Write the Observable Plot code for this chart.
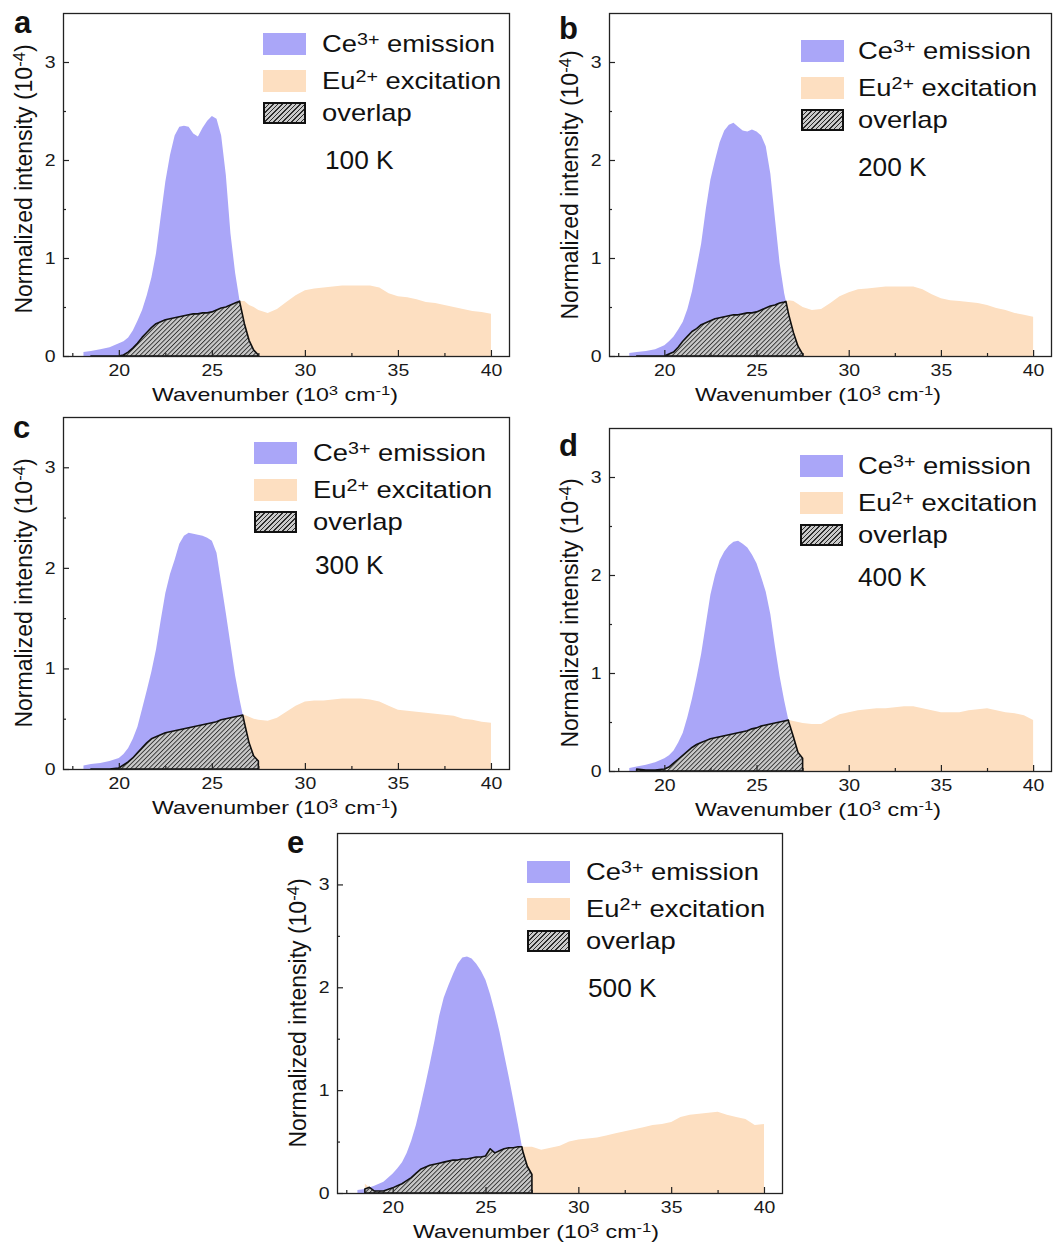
<!DOCTYPE html>
<html>
<head>
<meta charset="utf-8">
<script src="https://cdn.jsdelivr.net/npm/d3@7"></script>
<script src="https://cdn.jsdelivr.net/npm/@observablehq/plot@0.6"></script>
<style>
  html, body { margin: 0; padding: 0; background: #fff; }
  #root { position: relative; width: 1063px; height: 1245px; overflow: hidden;
          font-family: "Liberation Sans", Arial, Helvetica, sans-serif; color: #111; }
  .panel { position: absolute; }
  .abs { position: absolute; white-space: nowrap; line-height: 1; }
  .tag { font-weight: bold; font-size: 31px; }
  .sup { font-size: 0.72em; position: relative; top: -0.42em; line-height: 0; }
  .legtext { font-size: 24px; transform-origin: 0 50%; }
  .temp { font-size: 25px; transform-origin: 0 50%; }
  .xlab { font-size: 19px; }
  .ylab { font-size: 23px; }
  .sw { position: absolute; width: 43px; height: 22px; box-sizing: border-box; }
</style>
</head>
<body>
<div id="root"></div>
<script>
// ---------------- data ----------------
const wavenumber = [18.1,18.5,19,19.5,20,20.25,20.5,20.75,21,21.25,21.5,21.75,22,22.25,22.5,22.75,23,23.25,23.5,23.75,24,24.25,24.5,24.75,25,25.25,25.5,25.75,26,26.25,26.5,26.75,27,27.25,27.5,28,28.5,29,29.5,30,30.5,31,31.5,32,32.5,33,33.5,34,34.5,35,35.5,36,36.5,37,37.5,38,38.5,39,39.5,40];

// Ce3+ emission (covers 18.1 .. 27.5)
const emission100 = [0.04,0.05,0.07,0.09,0.13,0.15,0.19,0.26,0.36,0.47,0.62,0.80,1.05,1.42,1.78,2.05,2.25,2.34,2.35,2.34,2.27,2.24,2.33,2.40,2.45,2.42,2.25,1.85,1.25,0.85,0.55,0.33,0.16,0.06,0.01];
const emission200 = [0.03,0.04,0.05,0.07,0.11,0.15,0.20,0.27,0.35,0.48,0.66,0.90,1.15,1.50,1.80,2.00,2.18,2.30,2.36,2.38,2.34,2.30,2.29,2.31,2.29,2.25,2.14,1.86,1.40,0.95,0.64,0.42,0.24,0.10,0.02];
const emission300 = [0.035,0.05,0.06,0.08,0.11,0.15,0.21,0.30,0.42,0.60,0.78,0.97,1.19,1.48,1.75,1.94,2.08,2.24,2.32,2.35,2.34,2.33,2.32,2.30,2.27,2.15,1.85,1.55,1.24,0.93,0.68,0.46,0.26,0.13,0.08];
const emission400 = [0.03,0.045,0.065,0.09,0.13,0.16,0.21,0.29,0.39,0.55,0.74,0.96,1.20,1.50,1.80,2.00,2.15,2.24,2.30,2.34,2.35,2.32,2.28,2.21,2.12,1.98,1.83,1.60,1.27,0.97,0.72,0.50,0.35,0.19,0.13];
const emission500 = [0.03,0.04,0.07,0.11,0.19,0.24,0.30,0.39,0.51,0.66,0.85,1.05,1.26,1.48,1.72,1.90,2.02,2.13,2.23,2.29,2.30,2.28,2.23,2.16,2.07,1.93,1.76,1.57,1.35,1.13,0.90,0.66,0.41,0.26,0.18];

// Eu2+ excitation (covers 18.5 .. 40)
const excitation100 = [null,0,0,0,0,0.01,0.04,0.08,0.13,0.19,0.24,0.29,0.33,0.35,0.37,0.38,0.39,0.40,0.41,0.42,0.43,0.43,0.44,0.44,0.45,0.47,0.49,0.50,0.52,0.54,0.56,0.56,0.52,0.50,0.47,0.44,0.48,0.55,0.62,0.67,0.69,0.70,0.71,0.72,0.72,0.72,0.72,0.70,0.64,0.61,0.60,0.58,0.55,0.54,0.52,0.50,0.48,0.46,0.45,0.43];
const excitation200 = [null,0,0,0,0,0.02,0.04,0.09,0.15,0.20,0.25,0.28,0.32,0.34,0.36,0.38,0.39,0.40,0.41,0.42,0.42,0.43,0.44,0.44,0.45,0.47,0.49,0.51,0.52,0.54,0.55,0.57,0.56,0.53,0.50,0.47,0.48,0.54,0.61,0.65,0.68,0.69,0.70,0.71,0.71,0.71,0.71,0.68,0.63,0.59,0.57,0.56,0.55,0.54,0.52,0.49,0.47,0.44,0.42,0.40];
const excitation300 = [null,0,0,0,0.01,0.04,0.07,0.11,0.16,0.21,0.26,0.30,0.32,0.34,0.36,0.37,0.38,0.39,0.40,0.41,0.42,0.43,0.44,0.45,0.46,0.47,0.49,0.50,0.51,0.52,0.53,0.54,0.52,0.50,0.49,0.48,0.51,0.57,0.63,0.67,0.68,0.68,0.69,0.70,0.70,0.70,0.69,0.67,0.63,0.59,0.58,0.57,0.56,0.55,0.54,0.53,0.50,0.49,0.47,0.46];
const excitation400 = [null,0.02,0.01,0.01,0.02,0.04,0.08,0.12,0.16,0.20,0.24,0.27,0.29,0.31,0.33,0.34,0.35,0.36,0.37,0.38,0.39,0.40,0.41,0.43,0.44,0.46,0.47,0.48,0.49,0.50,0.51,0.52,0.51,0.50,0.49,0.48,0.48,0.53,0.58,0.60,0.62,0.63,0.64,0.64,0.65,0.66,0.66,0.64,0.62,0.60,0.60,0.60,0.62,0.63,0.64,0.62,0.60,0.59,0.57,0.52];
const excitation500 = [null,0.09,0.02,0.02,0.05,0.07,0.09,0.12,0.15,0.19,0.23,0.25,0.27,0.28,0.29,0.30,0.31,0.32,0.32,0.33,0.33,0.34,0.35,0.35,0.36,0.43,0.39,0.41,0.43,0.44,0.44,0.45,0.45,0.45,0.45,0.42,0.44,0.46,0.50,0.52,0.53,0.54,0.56,0.58,0.60,0.62,0.64,0.66,0.67,0.69,0.74,0.76,0.77,0.78,0.79,0.76,0.74,0.72,0.66,0.67];

const panelTags = ["a","b","c","d","e"];
const temperatures = ["100 K","200 K","300 K","400 K","500 K"];
const emissions = [emission100, emission200, emission300, emission400, emission500];
const excitations = [excitation100, excitation200, excitation300, excitation400, excitation500];

const xTicks = [20,25,30,35,40];
const xMinorTicks = [17.5,22.5,27.5,32.5,37.5];
const yTicks = [0,1,2,3];
const yMinorTicks = [0.5,1.5,2.5];

// ---------------- layout / style ----------------
const BLUE = "#aaa6f8";
const ORANGE = "#fddfc1";
const layout = [
  {left: 63,  top: 13,  w: 446, h: 343, swL: 200, swT: 20, txL: 259, tempL: 262, tempC: 147, xl: -11, yl: -6, tagL: -49, tagB: 20},
  {left: 609, top: 13,  w: 442, h: 343, swL: 192, swT: 27, txL: 249, tempL: 249, tempC: 154, xl: -12, yl: 0,  tagL: -50, tagB: 26},
  {left: 63,  top: 417, w: 446, h: 352, swL: 191, swT: 25, txL: 250, tempL: 252, tempC: 148, xl: -11, yl: 0,  tagL: -50, tagB: 21},
  {left: 609, top: 428, w: 442, h: 343, swL: 191, swT: 27, txL: 249, tempL: 249, tempC: 149, xl: -12, yl: 13, tagL: -50, tagB: 28},
  {left: 337, top: 833, w: 445, h: 360, swL: 190, swT: 28, txL: 249, tempL: 251, tempC: 155, xl: -24, yl: 0,  tagL: -50, tagB: 20}
];
const mL = 62, mR = 8, mT = 8, mB = 30;
const TICK_FONT = 16.5;
const root = document.getElementById("root");

function overlapOf(rows) {
  const both = rows.filter(r => r.em != null && r.ex != null);
  const out = [];
  for (let i = 0; i < both.length; i++) {
    const a = both[i];
    out.push({x: a.x, v: Math.min(a.em, a.ex)});
    if (i < both.length - 1) {
      const b = both[i + 1];
      const da = a.em - a.ex, db = b.em - b.ex;
      if (da * db < 0) {
        const t = da / (da - db);
        out.push({x: a.x + t * (b.x - a.x), v: a.em + t * (b.em - a.em)});
      }
    }
  }
  return out;
}

function addAbs(cls, html, left, top, extraStyle) {
  const d = document.createElement("div");
  d.className = "abs " + cls;
  d.innerHTML = html;
  d.style.left = left + "px";
  d.style.top = top + "px";
  if (extraStyle) Object.assign(d.style, extraStyle);
  root.appendChild(d);
  return d;
}

panelTags.forEach((tag, k) => {
  const L = layout[k];
  const rows = wavenumber.map((x, i) => ({
    x,
    em: emissions[k][i] == null ? null : emissions[k][i],
    ex: excitations[k][i] == null ? null : excitations[k][i]
  }));
  const emRows = rows.filter(r => r.em != null).map(r => ({x: r.x, v: r.em}));
  const exRows = rows.filter(r => r.ex != null).map(r => ({x: r.x, v: r.ex}));
  const ovRows = overlapOf(rows);
  const pid = "hatch-" + tag;

  const svg = Plot.plot({
    width: L.w + mL + mR,
    height: L.h + mT + mB,
    marginLeft: mL, marginRight: mR, marginTop: mT, marginBottom: mB,
    x: {domain: [17, 40.97]},
    y: {domain: [0, 3.5]},
    style: {fontFamily: '"Liberation Sans", Arial, sans-serif', fontSize: TICK_FONT + "px", color: "#1a1a1a", background: "transparent", overflow: "visible"},
    marks: [
      Plot.areaY(exRows, {x: "x", y: "v", fill: ORANGE, curve: "linear"}),
      Plot.areaY(emRows, {x: "x", y: "v", fill: BLUE, curve: "linear"}),
      Plot.areaY(ovRows, {x: "x", y: "v", fill: `url(#${pid})`, stroke: "#111", strokeWidth: 1.6, strokeLinejoin: "round", curve: "linear"}),
      Plot.frame({stroke: "#222", strokeWidth: 1.3}),
      Plot.ruleX(xTicks, {x: d => d, insetTop: L.h - 6, stroke: "#222", strokeWidth: 1.2}),
      Plot.ruleX(xMinorTicks, {x: d => d, insetTop: L.h - 3, stroke: "#222", strokeWidth: 1.2}),
      Plot.ruleY(yTicks, {y: d => d, insetRight: L.w - 6, stroke: "#222", strokeWidth: 1.2}),
      Plot.ruleY(yMinorTicks, {y: d => d, insetRight: L.w - 3, stroke: "#222", strokeWidth: 1.2}),
      Plot.axisX({ticks: xTicks, tickFormat: d => String(d), tickSize: 0, tickPadding: 8, label: null, fontSize: TICK_FONT}),
      Plot.axisY({ticks: yTicks, tickFormat: d => String(d), tickSize: 0, tickPadding: 8, label: null, fontSize: TICK_FONT})
    ]
  });

  // hatch pattern for the overlap area
  const defs = d3.select(svg).insert("defs", ":first-child");
  const pat = defs.append("pattern")
    .attr("id", pid).attr("patternUnits", "userSpaceOnUse")
    .attr("width", 3.2).attr("height", 3.2)
    .attr("patternTransform", "rotate(45)");
  pat.append("rect").attr("width", 3.2).attr("height", 3.2).attr("fill", "#cacaca");
  pat.append("rect").attr("x", 0).attr("y", 0).attr("width", 0.9).attr("height", 3.2).attr("fill", "#2b2b2b");

  // horizontally widen tick labels like the reference
  d3.select(svg).selectAll('g[aria-label="x-axis tick label"] text, g[aria-label="y-axis tick label"] text').each(function () {
    const t = this.getAttribute("transform") || "";
    this.setAttribute("transform", t + " scale(1.18,1)");
  });

  const holder = document.createElement("div");
  holder.className = "panel";
  holder.style.left = (L.left - mL) + "px";
  holder.style.top = (L.top - mT) + "px";
  holder.appendChild(svg);
  root.appendChild(holder);

  // panel tag
  addAbs("tag", tag, L.left + L.tagL, L.top + L.tagB - 0.847 * 31);

  // legend
  const rowTops = [0, 37, 69];
  const swStyles = [
    {background: BLUE},
    {background: ORANGE},
    {background: "repeating-linear-gradient(135deg, #cacaca 0px, #cacaca 2.3px, #2b2b2b 2.3px, #2b2b2b 3.2px)", border: "2px solid #111"}
  ];
  const legTexts = [
    'Ce<span class="sup">3+</span> emission',
    'Eu<span class="sup">2+</span> excitation',
    'overlap'
  ];
  rowTops.forEach((rt, j) => {
    const sw = document.createElement("div");
    sw.className = "sw";
    sw.style.left = (L.left + L.swL) + "px";
    sw.style.top = (L.top + L.swT + rt) + "px";
    Object.assign(sw.style, swStyles[j]);
    root.appendChild(sw);
    addAbs("legtext", legTexts[j], L.left + L.txL, L.top + L.swT + rt + 11, {transform: "translateY(-50%) scaleX(1.14)"});
  });

  // temperature
  addAbs("temp", temperatures[k], L.left + L.tempL, L.top + L.tempC, {transform: "translateY(-50%) scaleX(1.05)"});

  // axis titles
  addAbs("xlab", 'Wavenumber (10<span class="sup">3</span> cm<span class="sup">-1</span>)',
    L.left + L.w / 2 + L.xl, L.top + L.h + 38, {transform: "translate(-50%,-50%) scaleX(1.22)"});
  addAbs("ylab", 'Normalized intensity (10<span class="sup">-4</span>)',
    L.left - 39, L.top + L.h / 2 + L.yl, {transform: "translate(-50%,-50%) rotate(-90deg)"});
});
</script>
</body>
</html>
